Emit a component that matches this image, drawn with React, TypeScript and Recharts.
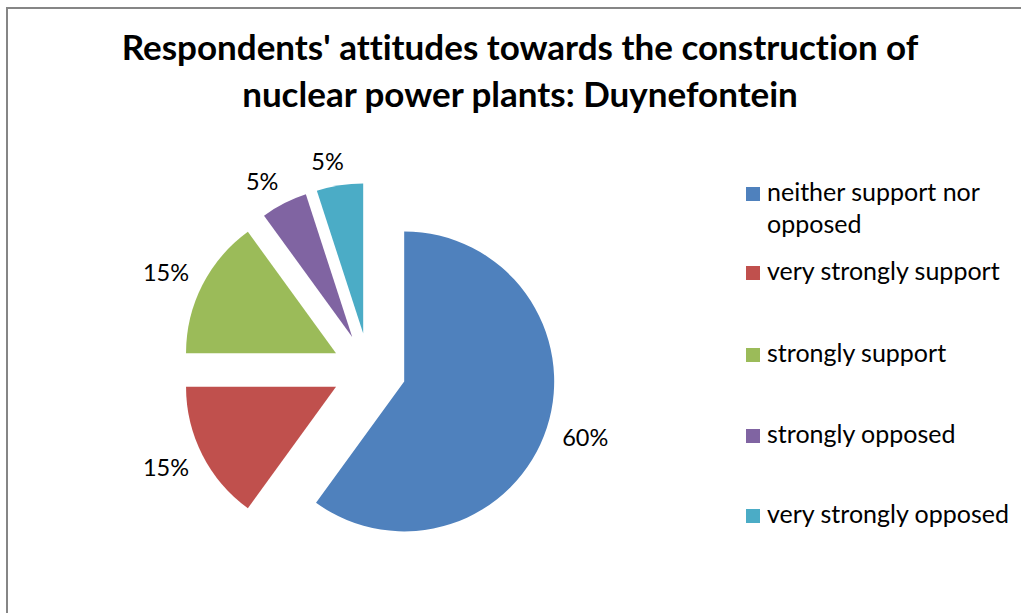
import React from 'react';
import { PieChart, Pie, Cell, Legend, Sector } from 'recharts';

// ---- data ----
const titleLines = [
  "Respondents' attitudes towards the construction of",
  'nuclear power plants: Duynefontein',
];
const categories = [
  'neither support nor opposed',
  'very strongly support',
  'strongly support',
  'strongly opposed',
  'very strongly opposed',
];
const percentages = [60, 15, 15, 5, 5];
const colors = ['#4F81BD', '#C0504D', '#9BBB59', '#8064A2', '#4BACC6'];

const data = categories.map((name, i) => ({ name, value: percentages[i] }));

// ---- layout / style ----
const W = 1021;
const H = 613;
const FONT = 'Lato, "Open Sans", sans-serif';
const RAD = Math.PI / 180;
const EXPLODE = 37;
const PIE_CX = 369;
const PIE_CY = 370;
const PIE_R = 150;
const LABEL_SIZE = 23.5;
const LABEL_RX = 33;
const LABEL_RY = 22;
const LABEL_PUSH_X = 7;
const LABEL_PUSH_Y = 2.5;
const LEGEND_SIZE = 25;
const TITLE_SIZE = 35;
const TITLE_X = 520;
const TITLE_BASELINES = [60, 107];
const LEGEND_BASELINES = [201, 280, 362, 443, 523];
const LEGEND_LINE_H = 32;
const LEGEND_X = 746;
const LEGEND_KEY = 14;
const LEGEND_TEXT_X = 767;
const LEGEND_MAX_CHARS = 21;
const NO_LIG = { fontVariantLigatures: 'none' as const };

const wrap = (s: string, max: number) => {
  const words = s.split(' ');
  const lines: string[] = [];
  let cur = '';
  words.forEach((w) => {
    const next = cur ? cur + ' ' + w : w;
    if (next.length > max && cur) {
      lines.push(cur);
      cur = w;
    } else cur = next;
  });
  if (cur) lines.push(cur);
  return lines;
};

const ExplodedSector = (props: any) => {
  const { cx, cy, midAngle } = props;
  const dx = EXPLODE * Math.cos(-midAngle * RAD);
  const dy = EXPLODE * Math.sin(-midAngle * RAD);
  return (
    <Sector
      cx={cx + dx}
      cy={cy + dy}
      innerRadius={props.innerRadius}
      outerRadius={props.outerRadius}
      startAngle={props.startAngle}
      endAngle={props.endAngle}
      fill={props.fill}
      stroke="none"
    />
  );
};

const renderLabel = (props: any) => {
  const { cx, cy, midAngle, outerRadius, percent } = props;
  const c = Math.cos(-midAngle * RAD);
  const s = Math.sin(-midAngle * RAD);
  const text = `${Math.round(percent * 100)}%`;
  const ax = cx + EXPLODE * c;
  const ay = cy + EXPLODE * s;
  const x = ax + c * (outerRadius + LABEL_RX) + Math.sign(c) * LABEL_PUSH_X;
  const y = ay + s * (outerRadius + LABEL_RY) + Math.sign(s) * LABEL_PUSH_Y;
  return (
    <text
      x={x}
      y={y}
      dy="0.36em"
      textAnchor="middle"
      fill="#000"
      fontFamily={FONT}
      fontSize={LABEL_SIZE}
    >
      {text}
    </text>
  );
};

const renderLegend = (props: any) => {
  const payload = [...(props.payload || [])].sort(
    (a: any, b: any) => categories.indexOf(a.value) - categories.indexOf(b.value)
  );
  return (
    <svg width={W} height={H} style={{ position: 'absolute', left: 0, top: 0 }}>
      {payload.map((entry: any, i: number) => {
        const base = LEGEND_BASELINES[i];
        const lines = wrap(String(entry.value), LEGEND_MAX_CHARS);
        return (
          <g key={i}>
            <rect
              x={LEGEND_X}
              y={base - LEGEND_KEY}
              width={LEGEND_KEY}
              height={LEGEND_KEY}
              fill={entry.color}
            />
            {lines.map((ln, j) => (
              <text
                key={j}
                x={LEGEND_TEXT_X}
                y={base + j * LEGEND_LINE_H}
                fill="#000"
                fontFamily={FONT}
                fontSize={LEGEND_SIZE}
                style={NO_LIG}
              >
                {ln}
              </text>
            ))}
          </g>
        );
      })}
    </svg>
  );
};

export default function App() {
  return (
    <div
      style={{
        position: 'absolute',
        left: 0,
        top: 0,
        width: W,
        height: H,
        overflow: 'hidden',
        background: '#fff',
      }}
    >
      <div
        style={{
          position: 'absolute',
          left: 6,
          top: 7,
          width: 1100,
          height: 700,
          borderLeft: '2px solid #868686',
          borderTop: '2px solid #868686',
        }}
      />
      <div style={{ position: 'absolute', left: 0, top: 0 }}>
        <PieChart width={W} height={H} margin={{ top: 0, right: 0, bottom: 0, left: 0 }}>
          {titleLines.map((t, i) => (
            <text
              key={i}
              x={TITLE_X}
              y={TITLE_BASELINES[i]}
              textAnchor="middle"
              fontFamily={FONT}
              fontWeight="bold"
              fontSize={TITLE_SIZE}
              fill="#000"
              style={NO_LIG}
            >
              {t}
            </text>
          ))}
          <Pie
            data={data}
            dataKey="value"
            nameKey="name"
            cx={PIE_CX}
            cy={PIE_CY}
            outerRadius={PIE_R}
            startAngle={90}
            endAngle={-270}
            stroke="none"
            isAnimationActive={false}
            labelLine={false}
            label={renderLabel}
            shape={ExplodedSector}
            activeShape={ExplodedSector}
            inactiveShape={ExplodedSector}
          >
            {data.map((_, i) => (
              <Cell key={i} fill={colors[i]} />
            ))}
          </Pie>
          <Legend
            layout="vertical"
            align="center"
            verticalAlign="middle"
            content={renderLegend}
            wrapperStyle={{ position: 'absolute', left: 0, top: 0, width: W, height: H }}
          />
        </PieChart>
      </div>
    </div>
  );
}
